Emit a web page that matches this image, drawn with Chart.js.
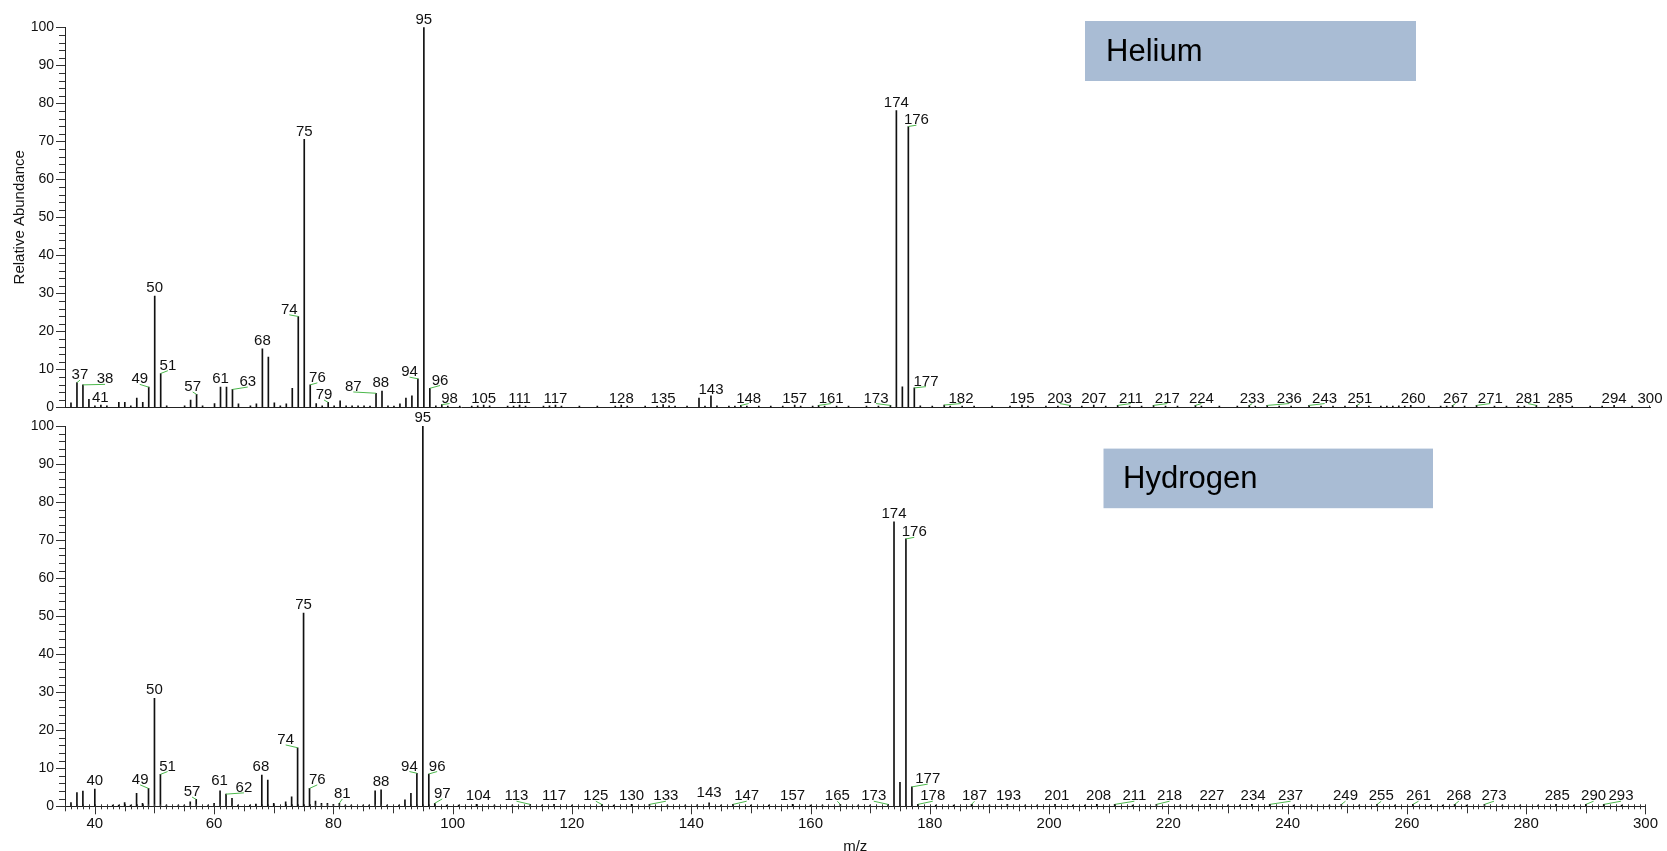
<!DOCTYPE html>
<html>
<head>
<meta charset="utf-8">
<title>Mass spectra – Helium vs Hydrogen carrier gas</title>
<script src="https://cdn.jsdelivr.net/npm/chart.js@4.4.1/dist/chart.umd.min.js"></script>
<style>
  html, body { margin: 0; padding: 0; background: #fff; }
  #wrap { position: relative; width: 1667px; height: 851px; }
  #wrap canvas { position: absolute; left: 0; top: 0; }
</style>
</head>
<body>
<div id="wrap">
  <canvas id="heliumChart" width="1667" height="851"></canvas>
  <canvas id="hydrogenChart" width="1667" height="851"></canvas>
</div>
<script>
// ---- Helium carrier gas spectrum (m/z, relative abundance %) ----
const heliumMz = [
  36,37,38,39,40,41,42,44,45,46,
  47,48,49,50,51,52,55,56,57,58,
  60,61,62,63,64,66,67,68,69,70,
  71,72,73,74,75,76,77,78,79,80,
  81,82,83,84,85,86,87,88,89,90,
  91,92,93,94,95,96,97,98,99,101,
  103,104,105,106,109,110,111,112,115,116,
  117,118,121,124,127,128,129,132,134,135,
  136,137,139,141,142,143,144,146,147,148,
  149,151,153,155,157,158,160,161,162,164,
  166,169,171,173,174,175,176,177,178,180,
  182,183,185,187,190,193,195,196,199,201,
  203,205,207,209,211,213,215,217,219,221,
  224,225,228,231,233,234,236,238,240,243,
  245,247,249,251,253,255,256,257,258,259,
  260,263,265,266,267,269,271,274,276,278,
  279,281,283,285,287,290,292,294,297,300
];
const heliumAbundance = [
  1.2,6.5,5.9,2.1,0.4,0.6,0.4,1.3,1.3,0.4,
  2.4,1.3,5.3,29.3,8.9,0.4,0.4,1.9,3.4,0.4,
  1.0,5.3,5.3,4.7,0.9,0.4,0.9,15.4,13.2,1.2,
  0.4,0.9,5.0,23.9,70.5,5.9,1.0,0.4,1.3,0.4,
  1.7,0.4,0.4,0.4,0.4,0.3,3.7,4.3,0.4,0.3,
  0.9,2.4,3.0,7.5,100,5.0,0.4,0.7,0.3,0.3,
  0.3,0.4,0.6,0.4,0.3,0.3,0.6,0.3,0.3,0.4,
  0.6,0.3,0.3,0.3,0.3,0.6,0.3,0.3,0.3,0.7,
  0.4,0.3,0.3,2.4,0.3,3.0,0.4,0.3,0.3,0.5,
  0.3,0.3,0.3,0.3,0.6,0.3,0.3,0.5,0.3,0.3,
  0.3,0.3,0.3,0.5,78.1,5.4,73.9,5.1,0.4,0.3,
  0.6,0.3,0.3,0.3,0.3,0.3,0.6,0.3,0.3,0.3,
  0.5,0.3,0.6,0.3,0.5,0.3,0.3,0.5,0.3,0.3,
  0.5,0.3,0.3,0.3,0.5,0.3,0.5,0.3,0.3,0.5,
  0.3,0.3,0.3,0.5,0.3,0.3,0.3,0.3,0.4,0.3,
  0.5,0.3,0.3,0.3,0.5,0.3,0.5,0.3,0.3,0.3,
  0.3,0.5,0.3,0.5,0.3,0.3,0.3,0.5,0.3,0.4
];
const heliumLabelled = [37,38,41,49,50,51,57,61,63,68,74,75,76,79,87,88,94,95,96,98,
  105,111,117,128,135,143,148,157,161,173,174,176,177,182,195,203,207,211,217,224,
  233,236,243,251,260,267,271,281,285,294,300];

// ---- Hydrogen carrier gas spectrum ----
const hydrogenMz = [
  36,37,38,40,43,44,45,46,47,48,
  49,50,51,52,54,55,56,57,59,60,
  61,62,63,64,66,67,68,69,70,72,
  73,74,75,76,77,78,79,80,81,82,
  83,85,86,87,88,89,91,92,93,94,
  95,96,97,99,101,104,107,110,113,115,
  117,120,125,127,130,133,136,139,141,143,
  145,147,150,153,157,160,162,165,168,170,
  173,174,175,176,177,178,181,184,187,190,
  193,196,198,201,204,206,208,211,214,218,
  222,224,227,230,232,234,237,241,244,247,
  249,252,255,258,261,264,266,268,270,273,
  276,279,282,285,288,290,293,296
];
const hydrogenAbundance = [
  1.0,3.6,4.0,4.5,0.3,0.3,1.0,0.3,3.4,0.8,
  4.7,28.4,8.4,0.3,0.3,0.3,1.2,1.8,0.3,0.8,
  4.1,3.2,2.1,0.3,0.3,0.6,8.2,6.9,0.8,1.2,
  2.5,15.4,50.8,4.7,1.4,0.8,0.8,0.5,0.8,0.3,
  0.3,0.3,0.3,4.1,4.3,0.3,0.3,1.7,3.4,8.7,
  100,8.5,0.8,0.3,0.3,0.5,0.3,0.3,0.5,0.3,
  0.5,0.3,0.5,0.3,0.5,0.5,0.3,0.3,0.4,0.9,
  0.3,0.5,0.3,0.3,0.5,0.3,0.3,0.5,0.3,0.3,
  0.5,74.8,6.3,70.3,5.1,0.5,0.3,0.3,0.5,0.3,
  0.5,0.3,0.3,0.5,0.3,0.3,0.5,0.5,0.3,0.5,
  0.3,0.3,0.5,0.3,0.3,0.5,0.5,0.3,0.3,0.3,
  0.5,0.3,0.5,0.3,0.5,0.3,0.3,0.5,0.3,0.5,
  0.3,0.3,0.3,0.5,0.3,0.5,0.5,0.3
];
const hydrogenLabelled = [40,49,50,51,57,61,62,68,74,75,76,81,88,94,95,96,97,
  104,113,117,125,130,133,143,147,157,165,173,174,176,177,178,187,193,201,208,
  211,218,227,234,237,249,255,261,268,273,285,290,293];

// ---- Axis tick labels ----
const xTickLabels = [40,60,80,100,120,140,160,180,200,220,240,260,280,300];
const yTickLabels = [0,10,20,30,40,50,60,70,80,90,100];

// Label placement: m/z -> [label centre m/z, label baseline height]; labels that
// are pushed aside get a green leader back to their peak.
const heliumLabelSpots = {
  37:[37.5,7.4], 38:[41.7,6.3], 41:[40.9,1.4], 49:[47.5,6.3], 51:[52.2,9.9],
  57:[56.35,4.3], 63:[65.55,5.6], 74:[72.5,24.6], 76:[77.2,6.7], 79:[78.3,2.2],
  87:[83.2,4.3], 88:[87.8,5.3], 94:[92.6,8.2], 96:[97.7,6.0], 98:[99.3],
  143:[143,3.6], 148:[149.3], 161:[163.1], 173:[170.6], 176:[177.35,74.5],
  177:[178.95,5.7], 182:[184.8], 203:[201.3], 211:[213.2], 217:[219.3],
  224:[225.0], 233:[233.5], 236:[239.7], 243:[245.6], 251:[251.5], 260:[260.4],
  267:[267.5], 271:[273.3], 281:[279.6]
};
const hydrogenLabelSpots = {
  49:[47.6,5.9], 51:[52.2,9.4], 57:[56.3,2.7], 61:[60.9,5.5], 62:[65.0,3.8],
  68:[67.85,9.4], 74:[72.0,16.4], 76:[77.3,5.9], 81:[81.5,2.2], 94:[92.75,9.4],
  96:[97.4,9.4], 97:[98.25,2.2], 104:[104.3], 113:[110.7], 125:[124.0],
  133:[135.75], 143:[143,2.4], 147:[149.3], 165:[164.5], 173:[170.6],
  176:[177.4,71.0], 177:[179.65,6.1], 178:[180.5], 187:[187.5], 193:[193.2],
  201:[201.3], 208:[208.3], 211:[214.3], 218:[220.2], 227:[227.3], 234:[234.2],
  237:[240.5], 249:[249.7], 255:[255.7], 261:[261.95], 268:[268.7], 273:[274.6],
  285:[285.2], 290:[291.3], 293:[295.9]
};

const FONT = '"Liberation Sans", Arial, Helvetica, sans-serif';
Chart.defaults.font.family = FONT;
Chart.defaults.color = '#111';

// Peak labels with optional leader lines
const peakLabels = {
  id: 'peakLabels',
  afterDatasetsDraw(chart, args, o) {
    const {ctx} = chart;
    const x = chart.scales.x, y = chart.scales.y;
    ctx.save();
    ctx.font = '15px ' + FONT;
    ctx.textAlign = 'center';
    ctx.textBaseline = 'alphabetic';
    o.labelled.forEach(m => {
      const v = o.values[o.mz.indexOf(m)];
      const spot = o.spots[m] || [];
      const lx = spot[0] !== undefined ? spot[0] : m;
      const ly = spot[1] !== undefined ? spot[1] : (v >= 2 ? v + 1 : o.row);
      const px = x.getPixelForValue(m), py = y.getPixelForValue(v);
      const tx = x.getPixelForValue(lx), ty = y.getPixelForValue(ly);
      if (Math.abs(lx - m) >= 0.5) {
        ctx.strokeStyle = '#4cb84c';
        ctx.lineWidth = 1;
        ctx.beginPath();
        ctx.moveTo(px, py);
        ctx.lineTo(tx, ty + 1);
        ctx.stroke();
      }
      ctx.fillStyle = '#111';
      ctx.fillText(String(m), tx, ty);
    });
    ctx.restore();
  }
};

// Minor / major tick marks on the axes
const tickMarks = {
  id: 'tickMarks',
  afterDraw(chart, args, o) {
    const {ctx, chartArea} = chart;
    const x = chart.scales.x, y = chart.scales.y;
    ctx.save();
    ctx.strokeStyle = '#333';
    ctx.lineWidth = 1;
    ctx.beginPath();
    for (let v = y.min; v <= y.max; v += 2) {
      const py = Math.round(y.getPixelForValue(v)) + 0.5;
      const len = v % 10 === 0 ? 9 : 6;
      ctx.moveTo(chartArea.left - len, py);
      ctx.lineTo(chartArea.left, py);
    }
    if (o.xTicks) {
      const base = chartArea.bottom;
      for (let m = Math.ceil(x.min); m <= x.max; m++) {
        const px = Math.round(x.getPixelForValue(m)) + 0.5;
        let down = 3;
        if (m % 20 === 0) down = 8;
        else if (m % 10 === 0) down = 7;
        else if (m % 5 === 0) down = 5;
        ctx.moveTo(px, base - 2);
        ctx.lineTo(px, base + down);
      }
    }
    ctx.stroke();
    ctx.restore();
  }
};

// Carrier gas tag box
const gasTag = {
  id: 'gasTag',
  afterDraw(chart, args, o) {
    const {ctx} = chart;
    ctx.save();
    ctx.fillStyle = '#a9bcd4';
    ctx.fillRect(o.box[0], o.box[1], o.box[2], o.box[3]);
    ctx.fillStyle = '#000';
    ctx.font = '31px ' + FONT;
    ctx.textAlign = 'left';
    ctx.textBaseline = 'middle';
    ctx.fillText(o.text, o.textX, o.box[1] + o.box[3] / 2 + 1);
    ctx.restore();
  }
};

function spectrum(canvasId, mz, values, labelled, spots, cfg) {
  return new Chart(document.getElementById(canvasId), {
    type: 'bar',
    data: {
      datasets: [{
        data: mz.map((m, i) => ({x: m, y: values[i]})),
        backgroundColor: '#111',
        borderWidth: 0,
        barThickness: 1
      }]
    },
    options: {
      responsive: false,
      animation: false,
      events: [],
      layout: {padding: cfg.padding},
      plugins: {
        legend: {display: false},
        tooltip: {enabled: false},
        peakLabels: {mz, values, labelled, spots, row: cfg.row},
        tickMarks: {xTicks: cfg.xTicks},
        gasTag: cfg.tag
      },
      scales: {
        x: {
          type: 'linear',
          min: 35, max: 300,
          offset: false,
          grid: {display: true, drawOnChartArea: false, drawTicks: false},
          border: {display: true, color: '#222', width: 1},
          ticks: {
            display: cfg.xTicks,
            stepSize: 20,
            autoSkip: false,
            maxRotation: 0,
            padding: 9,
            font: {size: 15},
            color: '#111',
            callback: v => xTickLabels.includes(v) ? String(v) : ''
          },
          title: {
            display: cfg.xTicks,
            text: 'm/z',
            font: {size: 15, lineHeight: 0.6},
            color: '#111',
            padding: {top: 0, bottom: 0}
          },
          afterFit: s => { s.height = cfg.xHeight; }
        },
        y: {
          min: 0, max: 100,
          grid: {display: true, drawOnChartArea: false, drawTicks: false},
          border: {display: true, color: '#222', width: 1},
          ticks: {
            stepSize: 10,
            padding: 11,
            font: {size: 14},
            color: '#111',
            callback: v => yTickLabels.includes(v) ? String(v) : ''
          },
          title: {
            display: cfg.yTitle,
            text: 'Relative Abundance',
            font: {size: 15},
            color: '#111',
            padding: {top: 11, bottom: 0}
          },
          afterFit: s => { s.width = 65; }
        }
      }
    },
    plugins: [peakLabels, tickMarks, gasTag]
  });
}

spectrum('heliumChart', heliumMz, heliumAbundance, heliumLabelled, heliumLabelSpots, {
  padding: {top: 27.3, left: 0, right: 17, bottom: 443.7},
  xHeight: 0, xTicks: false, yTitle: true, row: 1.25,
  tag: {box: [1085, 21, 331, 60], text: 'Helium', textX: 1106}
});

spectrum('hydrogenChart', hydrogenMz, hydrogenAbundance, hydrogenLabelled, hydrogenLabelSpots, {
  padding: {top: 426, left: 0, right: 17, bottom: 0},
  xHeight: 44.7, xTicks: true, yTitle: false, row: 1.6,
  tag: {box: [1103.5, 448.6, 329.5, 59.6], text: 'Hydrogen', textX: 1123}
});
</script>
</body>
</html>
